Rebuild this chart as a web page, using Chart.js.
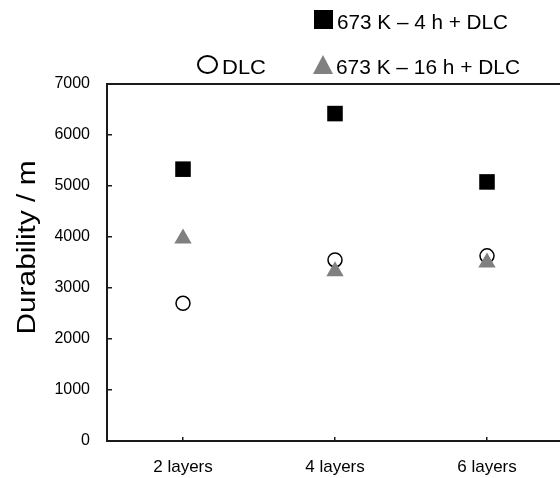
<!DOCTYPE html>
<html>
<head>
<meta charset="utf-8">
<script src="https://cdn.jsdelivr.net/npm/chart.js@4/dist/chart.umd.min.js"></script>
<style>
  html, body { margin: 0; padding: 0; background: #fff; overflow: hidden; }
  #wrap { position: absolute; left: 0; top: 0; width: 566px; height: 478px; }
  #c { display: block; width: 566px; height: 478px; }
  #ov { position: absolute; left: 0; top: 0; width: 560px; height: 478px; pointer-events: none; }
  #ov text { font-family: "Liberation Sans", Arial, sans-serif; fill: #000; }
</style>
</head>
<body>
<div id="wrap"><canvas id="c" width="566" height="478"></canvas></div>
<svg id="ov" width="560" height="478" xmlns="http://www.w3.org/2000/svg">
  <rect x="314" y="10" width="19" height="19" fill="#000"/>
  <text x="337" y="29" font-size="21" textLength="171" lengthAdjust="spacingAndGlyphs">673 K – 4 h + DLC</text>
  <ellipse cx="207.5" cy="64.5" rx="9.5" ry="8.5" fill="#fff" stroke="#000" stroke-width="2"/>
  <text x="222" y="73.5" font-size="21" textLength="44" lengthAdjust="spacingAndGlyphs">DLC</text>
  <polygon points="313,74 333,74 323,55" fill="#808080"/>
  <text x="336" y="73.5" font-size="21" textLength="184" lengthAdjust="spacingAndGlyphs">673 K – 16 h + DLC</text>
  <text x="0" y="0" font-size="26" text-anchor="middle" textLength="174" lengthAdjust="spacingAndGlyphs" transform="translate(34.5,247.5) rotate(-90)">Durability / m</text>
</svg>
<script>
const categories = ['2 layers', '4 layers', '6 layers'];
const dlc = [2700, 3550, 3630];
const k4h = [5330, 6420, 5080];
const k16h = [3970, 3330, 3500];
const yTicks = [0, 1000, 2000, 3000, 4000, 5000, 6000, 7000];

const framePlugin = {
  id: 'frame',
  beforeDatasetsDraw(chart) {
    const a = chart.chartArea;
    const ctx = chart.ctx;
    ctx.save();
    ctx.strokeStyle = '#1a1a1a';
    ctx.lineWidth = 2;
    ctx.strokeRect(a.left, a.top, a.right - a.left, a.bottom - a.top);
    ctx.restore();
  }
};

new Chart(document.getElementById('c'), {
  type: 'line',
  data: {
    labels: categories,
    datasets: [
      { label: '673 K – 4 h + DLC', data: k4h, showLine: false, pointStyle: 'rect', pointRadius: 11, pointHoverRadius: 11,
        backgroundColor: '#000', borderColor: '#000', borderWidth: 0, order: 1 },
      { label: '673 K – 16 h + DLC', data: k16h, showLine: false, pointStyle: 'triangle', pointRadius: 10, pointHoverRadius: 10,
        backgroundColor: '#808080', borderColor: '#808080', borderWidth: 0, order: 2 },
      { label: 'DLC', data: dlc, showLine: false, pointStyle: 'circle', pointRadius: 7, pointHoverRadius: 7,
        backgroundColor: '#fff', borderColor: '#000', borderWidth: 1.5, order: 3 }
    ]
  },
  options: {
    responsive: false,
    animation: false,
    devicePixelRatio: 1,
    layout: { autoPadding: false, padding: { left: 47, top: 84, right: 3, bottom: 0 } },
    plugins: { legend: { display: false }, tooltip: { enabled: false } },
    scales: {
      x: {
        type: 'category',
        offset: true,
        grid: { display: true, drawOnChartArea: false, drawTicks: true, tickLength: -4, color: '#1a1a1a', lineWidth: 1.5, offset: false },
        border: { display: false },
        ticks: { color: '#000', font: { family: '"Liberation Sans", Arial, sans-serif', size: 17 }, padding: 20, maxRotation: 0 },
        afterFit(s) { s.height = 37; s.paddingLeft = 0; s.paddingRight = 0; }
      },
      y: {
        min: 0, max: 7000,
        afterBuildTicks(s) { s.ticks = yTicks.map(v => ({ value: v })); },
        grid: { display: true, drawOnChartArea: false, drawTicks: true, tickLength: -5, color: '#1a1a1a', lineWidth: 1.5 },
        border: { display: false },
        ticks: { color: '#000', font: { family: '"Liberation Sans", Arial, sans-serif', size: 16 }, padding: 22,
          callback: (v) => String(v) },
        afterFit(s) { s.width = 60; s.paddingTop = 0; s.paddingBottom = 0; }
      }
    }
  },
  plugins: [framePlugin]
});
</script>
</body>
</html>
